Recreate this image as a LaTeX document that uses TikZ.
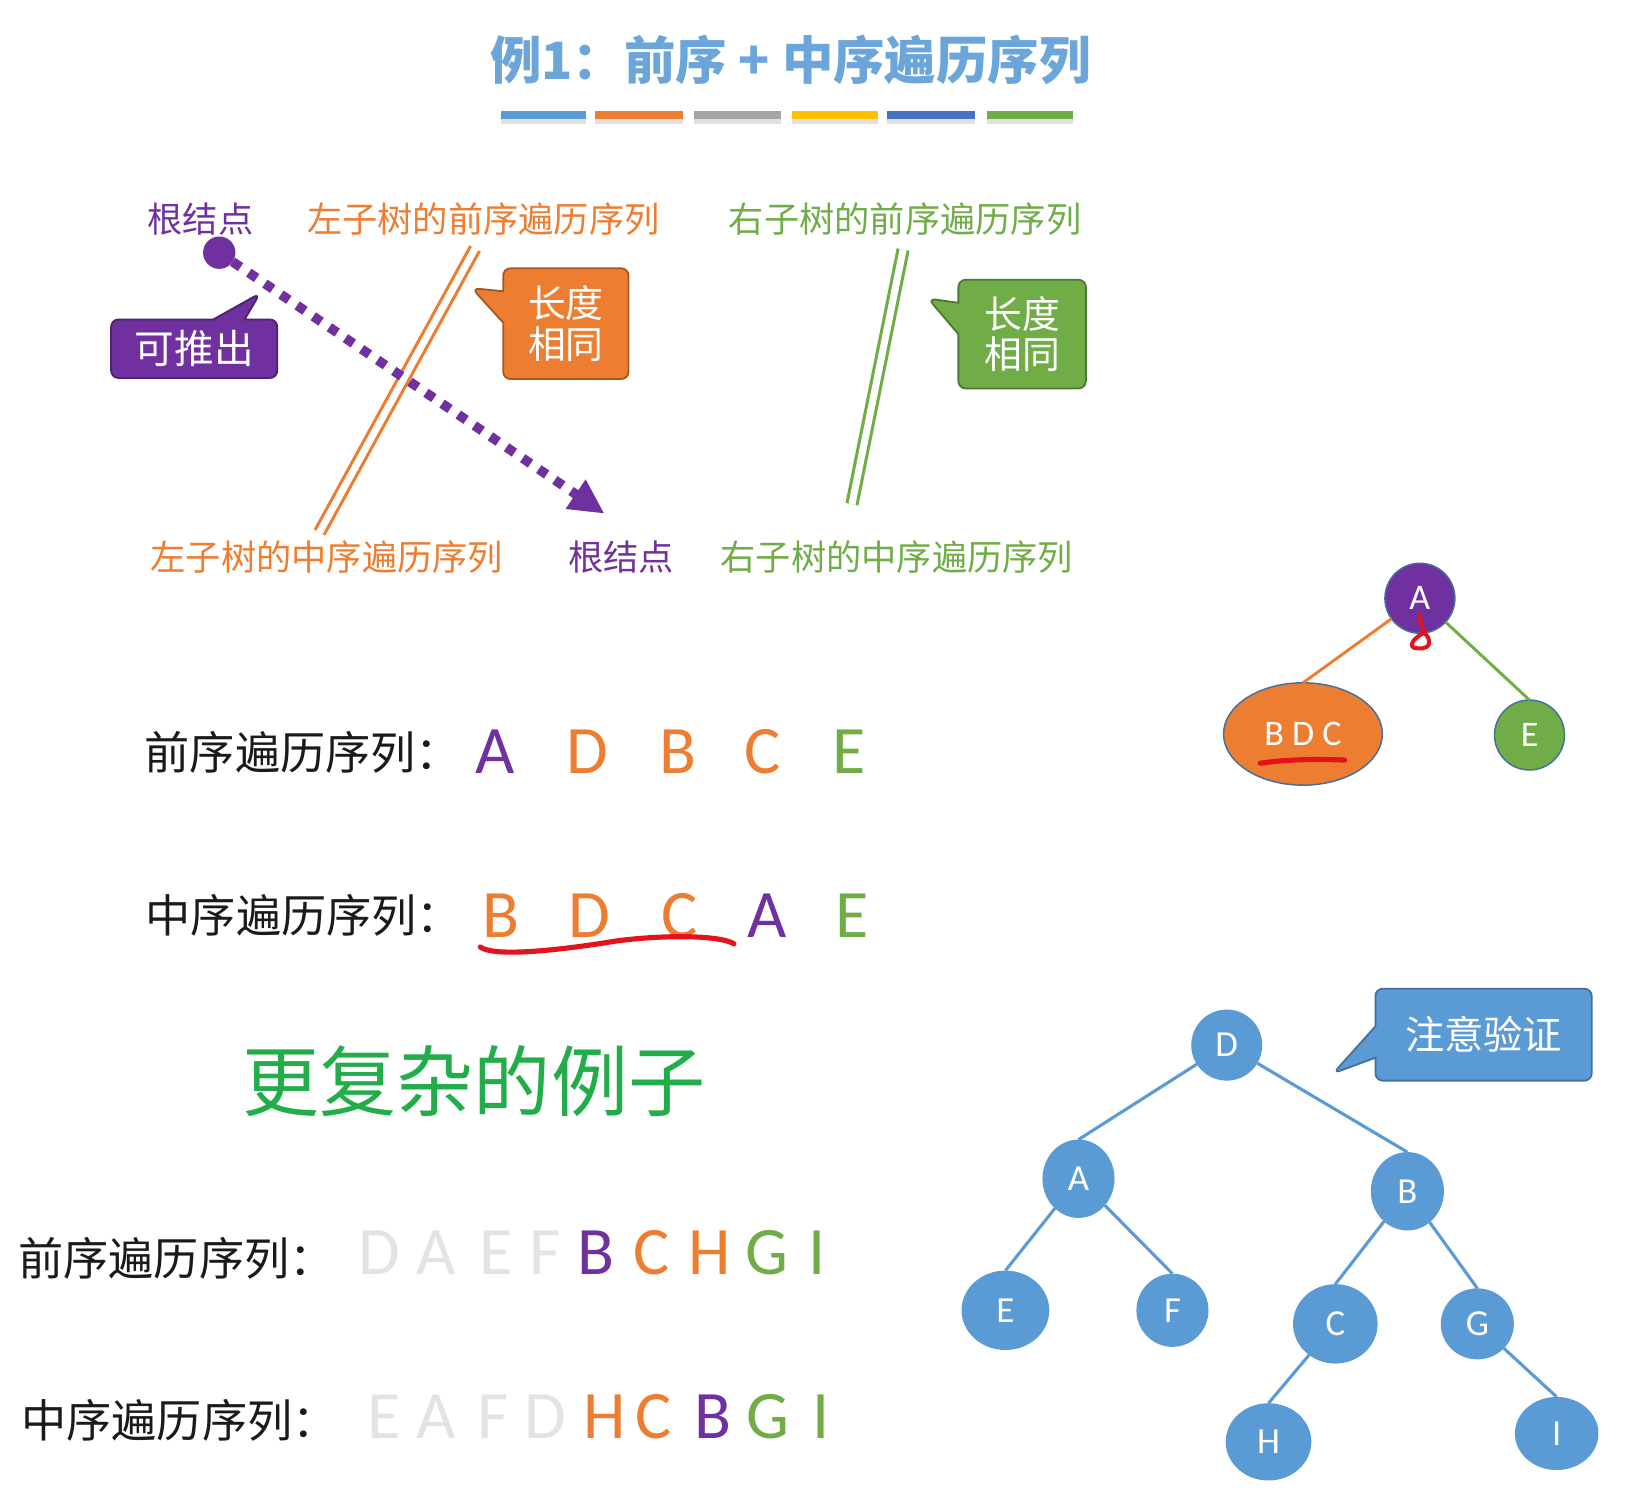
\documentclass[tikz,border=0pt]{standalone}
\usepackage{fontspec}
\usepackage{xcolor}
\usepackage{tikz}
\usetikzlibrary{shapes,arrows,positioning,calc,arrows.meta}
\newfontfamily\cjk{Noto Sans CJK SC}
\newfontfamily\lat{Carlito}
\definecolor{pp}{HTML}{7030A0}
\definecolor{oo}{HTML}{ED7D31}
\definecolor{gg}{HTML}{70AD47}
\definecolor{bb}{HTML}{5B9BD5}
\definecolor{dbb}{HTML}{41719C}
\definecolor{gy}{HTML}{A5A5A5}
\definecolor{yy}{HTML}{FFC000}
\definecolor{nb}{HTML}{4472C4}
\definecolor{lg}{HTML}{E3E3E3}
\definecolor{kg}{HTML}{22AD4A}
\definecolor{ink}{HTML}{1A1A1A}
\definecolor{rd}{HTML}{E3121B}

\begin{document}
\begin{tikzpicture}[x=0.01cm, y=-0.01cm, outer sep=0pt,
    lab/.style={font=\cjk\fontsize{9.6}{11}\selectfont},
    seq/.style={font=\cjk\fontsize{12.3}{14}\selectfont, text=ink, inner sep=0pt},
    let/.style={font=\lat\fontsize{18.5}{20}\selectfont, inner sep=0pt},
    bubble/.style={rectangle callout, rounded corners=0.07cm, line width=0.5pt, text=white, align=center, inner sep=0pt, callout pointer width=0.3cm, font=\cjk\fontsize{10.3}{11}\selectfont},
    tnode/.style={ellipse, fill=bb, text=white, inner sep=0pt, font=\lat\fontsize{10}{11}\selectfont},
    snode/.style={circle, draw=dbb, line width=0.4pt, text=white, inner sep=0pt, minimum size=0.67cm, font=\lat\fontsize{9.8}{11}\selectfont},
    tedge/.style={draw=bb, line width=0.85pt},
    twin/.style={line width=0.85pt, double=white, double distance=1.9pt},
    pen/.style={draw=rd, line width=1.4pt, line cap=round, line join=round}]

\useasboundingbox (0,0) rectangle (1567,1441);

\node (ttl) [font=\cjk\bfseries\fontsize{14}{16}\selectfont, text=bb!90!white] at (757,57) {例1：前序 + 中序遍历序列};
\fill[black!12] (480,114) rectangle (561,119);
\fill[bb] (480,106) rectangle (561,114);
\fill[black!12] (570,114) rectangle (654,119);
\fill[oo] (570,106) rectangle (654,114);
\fill[black!12] (665,114) rectangle (748,119);
\fill[gy] (665,106) rectangle (748,114);
\fill[black!12] (759,114) rectangle (841,119);
\fill[yy] (759,106) rectangle (841,114);
\fill[black!12] (850,114) rectangle (934,119);
\fill[nb] (850,106) rectangle (934,114);
\fill[black!12] (945,114) rectangle (1028,119);
\fill[gg] (945,106) rectangle (1028,114);

\node (rootT) [lab, text=pp] at (192,210) {根结点};
\node (lpre) [lab, text=oo] at (463,210) {左子树的前序遍历序列};
\node (rpre) [lab, text=gg] at (867,210) {右子树的前序遍历序列};
\node (lin) [lab, text=oo] at (313,534) {左子树的中序遍历序列};
\node (rootB) [lab, text=pp] at (595,534) {根结点};
\node (rin) [lab, text=gg] at (859,534) {右子树的中序遍历序列};

\draw[oo, twin] (455,238) -- (306,510);
\draw[gg, twin] (865,239) -- (816,483);

\node (rdot) [circle, fill=pp, minimum size=0.31cm, inner sep=0pt] at (210,242) {};
\coordinate (rtip) at (579,492);
\draw[pp, line width=2.6pt, dash pattern=on 2.6pt off 2.7pt, -{Triangle[length=9.5pt,width=9pt]}] (rdot) -- (rtip);

\node (cpush) [bubble, fill=pp, draw=pp!70!black, minimum width=1.59cm, minimum height=0.56cm, font=\cjk\fontsize{10.8}{12}\selectfont, callout absolute pointer={(249,281)}] at (186,334) {可推出};
\node (cleft) [bubble, fill=oo, draw=oo!70!black, minimum width=1.2cm, minimum height=1.06cm, callout absolute pointer={(452,276)}] at (542,310) {长度\\相同};
\node (cright) [bubble, fill=gg, draw=gg!70!black, minimum width=1.22cm, minimum height=1.04cm, callout absolute pointer={(889,286)}] at (979,320) {长度\\相同};

\node (pre1) [seq] at (290,721) {前序遍历序列：};
\node (mpA) [let, text=pp] at (474,720) {A};
\node (mpD) [let, text=oo] at (563,720) {D};
\node (mpB) [let, text=oo] at (649,720) {B};
\node (mpC) [let, text=oo] at (730,720) {C};
\node (mpE) [let, text=gg] at (813,720) {E};

\node (in1) [seq] at (291,877) {中序遍历序列：};
\node (miB) [let, text=oo] at (480,877) {B};
\node (miD) [let, text=oo] at (565,877) {D};
\node (miC) [let, text=oo] at (651,877) {C};
\node (miA) [let, text=pp] at (735,877) {A};
\node (miE) [let, text=gg] at (816,877) {E};
\draw[pen] (460,907) .. controls (472,916) and (525,912) .. (592,901) .. controls (640,895) and (690,896) .. (703,904);

\node (sA) [snode, fill=pp] at (1360,573) {A};
\node (sBDC) [ellipse, fill=oo, draw=dbb, line width=0.4pt, text=white, inner sep=0pt, minimum width=1.52cm, minimum height=0.98cm, font=\lat\fontsize{9.8}{11}\selectfont] at (1248,703) {B D C};
\node (sE) [snode, fill=gg] at (1465,704) {E};
\draw[oo, line width=0.8pt] (sA) -- (sBDC.north);
\draw[gg, line width=0.8pt] (sA) -- (sE.north);
\draw[pen, line width=1.1pt] (1359,589) -- (1364,606) .. controls (1352,612) and (1348,621) .. (1358,621) .. controls (1372,622) and (1371,612) .. (1364,606);
\draw[pen] (1207,731) .. controls (1235,727) and (1265,727) .. (1288,728);

\node (more) [font=\cjk\fontsize{21}{24}\selectfont, text=kg] at (454,1035) {更复杂的例子};

\node (pre2) [seq] at (169,1205) {前序遍历序列：};
\node (bpD) [let, text=lg] at (363,1200) {D};
\node (bpA) [let, text=lg] at (418,1200) {A};
\node (bpE) [let, text=lg] at (475,1200) {E};
\node (bpF) [let, text=lg] at (522,1200) {F};
\node (bpB) [let, text=pp] at (571,1200) {B};
\node (bpC) [let, text=oo] at (624,1200) {C};
\node (bpH) [let, text=oo] at (680,1200) {H};
\node (bpG) [let, text=gg] at (735,1200) {G};
\node (bpI) [let, text=gg] at (783,1200) {I};

\node (in2) [seq] at (172,1360) {中序遍历序列：};
\node (biE) [let, text=lg] at (368,1357) {E};
\node (biA) [let, text=lg] at (418,1357) {A};
\node (biF) [let, text=lg] at (472,1357) {F};
\node (biD) [let, text=lg] at (522,1357) {D};
\node (biH) [let, text=oo] at (579,1357) {H};
\node (biC) [let, text=oo] at (626,1357) {C};
\node (biB) [let, text=pp] at (683,1357) {B};
\node (biG) [let, text=gg] at (736,1357) {G};
\node (biI) [let, text=gg] at (786,1357) {I};

\node (tD) [tnode, minimum width=0.68cm, minimum height=0.68cm] at (1175,1001) {D};
\node (tA) [tnode, minimum width=0.69cm, minimum height=0.75cm] at (1033,1129) {A};
\node (tB) [tnode, minimum width=0.7cm, minimum height=0.75cm] at (1348,1141) {B};
\node (tE) [tnode, minimum width=0.84cm, minimum height=0.76cm] at (963,1255) {E};
\node (tF) [tnode, minimum width=0.69cm, minimum height=0.7cm] at (1123,1255) {F};
\node (tC) [tnode, minimum width=0.81cm, minimum height=0.76cm] at (1279,1268) {C};
\node (tG) [tnode, minimum width=0.7cm, minimum height=0.68cm] at (1415,1268) {G};
\node (tH) [tnode, minimum width=0.82cm, minimum height=0.74cm] at (1215,1381) {H};
\node (tI) [tnode, minimum width=0.8cm, minimum height=0.7cm] at (1491,1373) {I};
\draw[tedge] (tD) -- (tA.north);
\draw[tedge] (tD) -- (tB.north);
\draw[tedge] (tA) -- (tE.north);
\draw[tedge] (tA) -- (tF.north);
\draw[tedge] (tB) -- (tC.north);
\draw[tedge] (tB) -- (tG.north);
\draw[tedge] (tC) -- (tH.north);
\draw[tedge] (tG) -- (tI.north);

\node (cnote) [bubble, fill=bb, draw=dbb, minimum width=2.07cm, minimum height=0.88cm, font=\cjk\fontsize{10.7}{12}\selectfont, callout absolute pointer={(1277,1028)}] at (1421,991) {注意验证};
\end{tikzpicture}
\end{document}
